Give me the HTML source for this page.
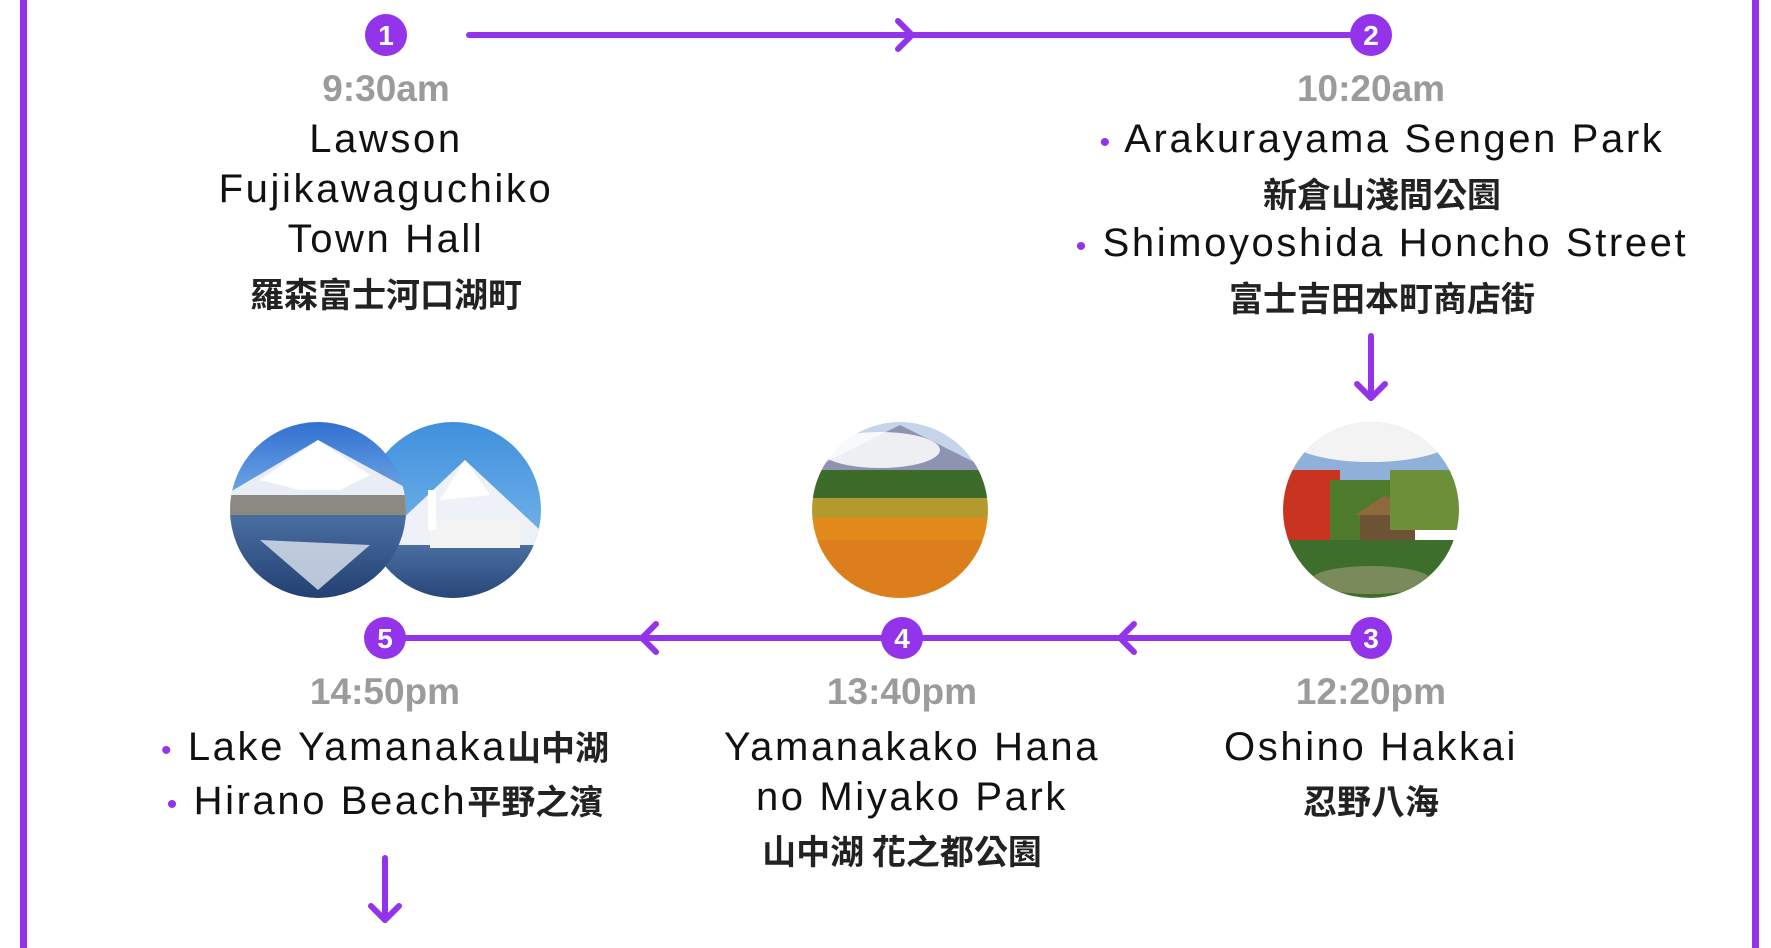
<!DOCTYPE html>
<html><head><meta charset="utf-8"><style>
body{margin:0;width:1771px;height:948px;background:#fff;position:relative;overflow:hidden;font-family:"Liberation Sans","Noto Sans CJK TC",sans-serif}
.t{position:absolute;text-align:center;white-space:nowrap;transform:translateX(-50%)}
.time{color:#9b9b9b;font-weight:bold;font-size:37px;line-height:40px}
.en{color:#111;font-size:40px;letter-spacing:2.6px;line-height:46px}
.cj{color:#222;font-weight:bold;font-size:34px;letter-spacing:0;font-family:"Noto Sans CJK TC",sans-serif;line-height:44px}
.dot{color:#9333ea;font-size:30px}
</style></head><body>
<svg width="1771" height="948" style="position:absolute;left:0;top:0">
<defs>
<linearGradient id="sky" x1="0" y1="0" x2="0" y2="1"><stop offset="0" stop-color="#2f6fd0"/><stop offset="1" stop-color="#7fb5ea"/></linearGradient>
<linearGradient id="sky2" x1="0" y1="0" x2="0" y2="1"><stop offset="0" stop-color="#3f8fdc"/><stop offset="1" stop-color="#8cc6f0"/></linearGradient>
<linearGradient id="water" x1="0" y1="0" x2="0" y2="1"><stop offset="0" stop-color="#4a6ea0"/><stop offset="1" stop-color="#1d3a6c"/></linearGradient>
<clipPath id="c1"><circle cx="318" cy="510" r="88"/></clipPath>
<clipPath id="c2"><circle cx="453" cy="510" r="88"/></clipPath>
<clipPath id="c3"><circle cx="900" cy="510" r="88"/></clipPath>
<clipPath id="c4"><circle cx="1371" cy="510" r="88"/></clipPath>
</defs>
<rect x="20" y="0" width="7" height="948" fill="#9333ea"/>
<rect x="1752" y="0" width="7" height="948" fill="#9333ea"/>
<g clip-path="url(#c2)">
<rect x="360" y="420" width="190" height="190" fill="url(#sky2)"/>
<polygon points="380,540 465,460 540,530 540,545 380,545" fill="#eef2f8"/>
<polygon points="440,500 465,460 490,495" fill="#fff"/>
<rect x="360" y="545" width="190" height="70" fill="url(#water)"/>
<rect x="430" y="520" width="90" height="28" fill="#f4f4f4"/>
<rect x="428" y="490" width="8" height="40" fill="#fff"/>
</g>
<g clip-path="url(#c1)">
<rect x="225" y="420" width="190" height="95" fill="url(#sky)"/>
<polygon points="225,495 318,440 410,490 410,515 225,515" fill="#e9eef6"/>
<polygon points="260,480 318,440 370,475 340,490 300,490" fill="#fff"/>
<rect x="225" y="495" width="190" height="25" fill="#8c8a80"/>
<rect x="225" y="515" width="190" height="95" fill="url(#water)"/>
<polygon points="260,540 318,590 370,545" fill="#dfe6f0" opacity=".8"/>
</g>
<g clip-path="url(#c3)">
<rect x="810" y="420" width="180" height="60" fill="#c6d4ea"/>
<polygon points="810,470 900,425 990,470" fill="#8d93b0"/>
<ellipse cx="880" cy="450" rx="60" ry="18" fill="#fff" opacity=".85"/>
<rect x="810" y="470" width="180" height="28" fill="#3c6b2a"/>
<rect x="810" y="498" width="180" height="20" fill="#b49a2e"/>
<rect x="810" y="518" width="180" height="90" fill="#e28a1c"/>
<rect x="810" y="540" width="180" height="70" fill="#d9761a" opacity=".6"/>
</g>
<g clip-path="url(#c4)">
<rect x="1280" y="420" width="190" height="60" fill="#8fb0d8"/>
<ellipse cx="1371" cy="440" rx="80" ry="22" fill="#f3f3f3"/>
<rect x="1280" y="470" width="60" height="80" fill="#c8341f"/>
<rect x="1330" y="480" width="60" height="60" fill="#4e7a2c"/>
<polygon points="1355,515 1385,495 1420,515" fill="#8b6a3c"/>
<rect x="1360" y="515" width="55" height="25" fill="#6e5236"/>
<rect x="1390" y="470" width="80" height="60" fill="#6d8f3a"/>
<rect x="1280" y="540" width="190" height="70" fill="#3e6e2c"/>
<ellipse cx="1371" cy="580" rx="60" ry="14" fill="#7a8a5a"/>
</g>
<g stroke="#9333ea" stroke-width="6" fill="none" stroke-linecap="round" stroke-linejoin="round">
<line x1="469" y1="35" x2="1371" y2="35"/>
<polyline points="898,21 912,35 898,49"/>
<line x1="1371" y1="336" x2="1371" y2="398"/>
<polyline points="1357,384 1371,398 1385,384"/>
<line x1="385" y1="638" x2="1371" y2="638"/>
<polyline points="656,624 642,638 656,652"/>
<polyline points="1134,624 1120,638 1134,652"/>
<line x1="385" y1="858" x2="385" y2="920"/>
<polyline points="371,906 385,920 399,906"/>
</g>
<g fill="#9333ea">
<circle cx="386" cy="35" r="21"/><circle cx="1371" cy="35" r="21"/>
<circle cx="1371" cy="638" r="21"/><circle cx="902" cy="638" r="21"/><circle cx="385" cy="638" r="21"/>
</g>
<g fill="#fff" font-family="Liberation Sans" font-weight="bold" font-size="28" text-anchor="middle">
<text x="386" y="45">1</text><text x="1371" y="45">2</text><text x="1371" y="648">3</text><text x="902" y="648">4</text><text x="385" y="648">5</text>
</g>
</svg>
<div class="t time" style="left:386px;top:69px">9:30am</div>
<div class="t en" style="left:386px;top:116px">Lawson</div>
<div class="t en" style="left:386px;top:166px">Fujikawaguchiko</div>
<div class="t en" style="left:386px;top:216px">Town Hall</div>
<div class="t cj" style="left:386px;top:271px">羅森富士河口湖町</div>

<div class="t time" style="left:1371px;top:69px">10:20am</div>
<div class="t en" style="left:1382px;top:116px"><span class="dot">•</span> Arakurayama Sengen Park</div>
<div class="t cj" style="left:1382px;top:171px">新倉山淺間公園</div>
<div class="t en" style="left:1382px;top:220px"><span class="dot">•</span> Shimoyoshida Honcho Street</div>
<div class="t cj" style="left:1382px;top:275px">富士吉田本町商店街</div>

<div class="t time" style="left:385px;top:672px">14:50pm</div>
<div class="t en" style="left:385px;top:724px"><span class="dot">•</span> Lake Yamanaka<span class="cj">山中湖</span></div>
<div class="t en" style="left:385px;top:778px"><span class="dot">•</span> Hirano Beach<span class="cj">平野之濱</span></div>

<div class="t time" style="left:902px;top:672px">13:40pm</div>
<div class="t en" style="left:912px;top:724px">Yamanakako Hana</div>
<div class="t en" style="left:912px;top:774px">no Miyako Park</div>
<div class="t cj" style="left:902px;top:828px">山中湖 花之都公園</div>

<div class="t time" style="left:1371px;top:672px">12:20pm</div>
<div class="t en" style="left:1371px;top:724px">Oshino Hakkai</div>
<div class="t cj" style="left:1371px;top:778px">忍野八海</div>
</body></html>
